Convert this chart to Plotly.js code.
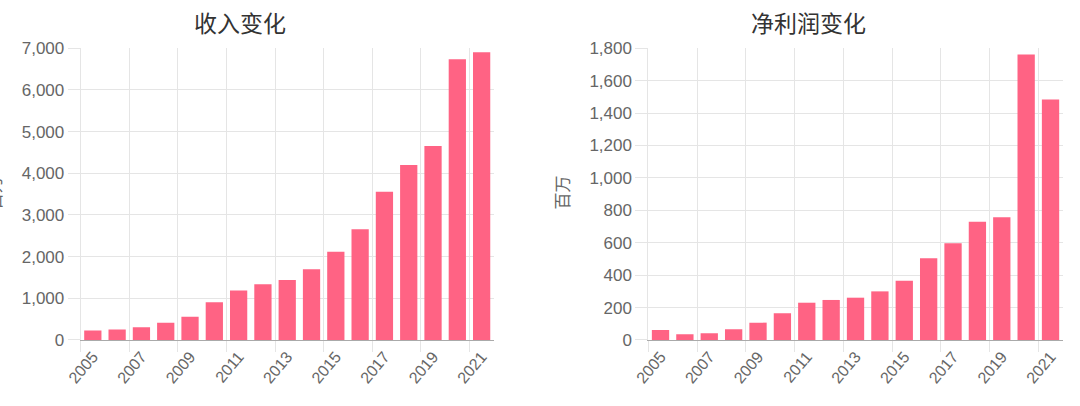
<!DOCTYPE html>
<html><head><meta charset="utf-8">
<script src="https://cdn.plot.ly/plotly-3.0.1.min.js"></script>
<style>html,body{margin:0;padding:0;background:#fff}#chart{width:1080px;height:406px}</style>
</head><body><div id="chart"></div>
<script>
const years = ['2005','2006','2007','2008','2009','2010','2011','2012','2013','2014','2015','2016','2017','2018','2019','2020','2021'];
const revenue = [230, 250, 305, 415, 560, 905, 1185, 1335, 1440, 1700, 2120, 2655, 3560, 4200, 4655, 6735, 6905];
const netProfit = [62, 35, 41, 66, 107, 165, 230, 247, 261, 300, 366, 504, 597, 730, 757, 1762, 1484];
const titles = ['收入变化', '净利润变化'];
const yUnit = '百万';

const barColor = '#ff6384';
const gridColor = '#e5e5e5';
const xTickFont = {family: 'Liberation Sans, Arial, sans-serif', size: 16, color: '#666'};
const yTickFont = {family: 'Liberation Sans, Arial, sans-serif', size: 17, color: '#666'};
const cjk = 'Noto Sans CJK SC, sans-serif';

function xAxis(domain) {
  return {
    domain: domain, type: 'category', tickmode: 'linear', tick0: 0, dtick: 2,
    tickson: 'boundaries', tickangle: -50, ticks: 'outside', ticklen: 11, tickcolor: gridColor,
    showgrid: true, gridcolor: gridColor, showline: true, linecolor: '#aaa', linewidth: 1,
    tickfont: xTickFont, range: [-0.5, years.length - 0.5], fixedrange: true
  };
}
function yAxis(anchor, range, dtick) {
  return {
    anchor: anchor, domain: [0.1626, 0.881], range: range, dtick: dtick, tickformat: ',d',
    ticks: 'outside', ticklen: 12, tickcolor: gridColor, showgrid: true, gridcolor: gridColor,
    zeroline: false, showline: true, linecolor: gridColor, tickfont: yTickFont, fixedrange: true
  };
}

const data = [
  {type: 'bar', x: years, y: revenue, xaxis: 'x', yaxis: 'y', marker: {color: barColor}, hoverinfo: 'x+y'},
  {type: 'bar', x: years, y: netProfit, xaxis: 'x2', yaxis: 'y2', marker: {color: barColor}, hoverinfo: 'x+y'}
];

const layout = {
  width: 1080, height: 406, autosize: false,
  margin: {l: 0, r: 0, t: 0, b: 0},
  paper_bgcolor: '#fff', plot_bgcolor: '#fff',
  showlegend: false, bargap: 0.29,
  xaxis: Object.assign(xAxis([0.0747, 0.4572]), {anchor: 'y'}),
  yaxis: yAxis('x', [0, 7000], 1000),
  xaxis2: Object.assign(xAxis([0.6003, 0.984]), {anchor: 'y2'}),
  yaxis2: yAxis('x2', [0, 1800], 200),
  annotations: [
    {xref: 'paper', yref: 'paper', x: 240 / 1080, y: 1 - 22 / 406, xanchor: 'center', yanchor: 'middle',
     text: titles[0], showarrow: false, font: {family: cjk, size: 23, color: '#333'}},
    {xref: 'paper', yref: 'paper', x: 808 / 1080, y: 1 - 22 / 406, xanchor: 'center', yanchor: 'middle',
     text: titles[1], showarrow: false, font: {family: cjk, size: 23, color: '#333'}},
    {xref: 'paper', yref: 'paper', x: -6 / 1080, y: 1 - 193 / 406, xanchor: 'center', yanchor: 'middle',
     text: yUnit, textangle: -90, showarrow: false, font: {family: cjk, size: 17, color: '#666'}},
    {xref: 'paper', yref: 'paper', x: 561.5 / 1080, y: 1 - 193 / 406, xanchor: 'center', yanchor: 'middle',
     text: yUnit, textangle: -90, showarrow: false, font: {family: cjk, size: 17, color: '#666'}}
  ]
};

Plotly.newPlot('chart', data, layout, {staticPlot: true, displayModeBar: false});
</script>
</body></html>
